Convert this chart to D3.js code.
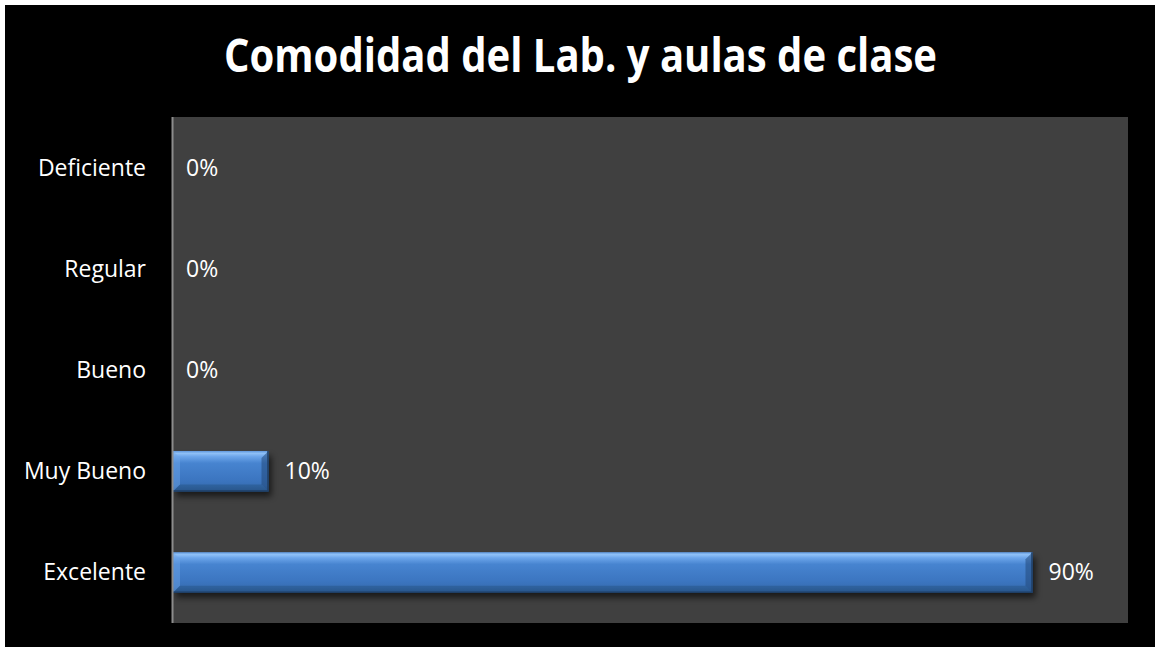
<!DOCTYPE html>
<html>
<head>
<meta charset="utf-8">
<script src="https://cdn.jsdelivr.net/npm/d3@7"></script>
<style>
html,body{margin:0;padding:0;background:#fff;}
svg{display:block;}
</style>
</head>
<body>
<svg id="chart" width="1155" height="647"></svg>
<script>
const title = "Comodidad del Lab. y aulas de clase";
const categories = ["Deficiente", "Regular", "Bueno", "Muy Bueno", "Excelente"];
const values = [0, 0, 0, 0.10, 0.90];
const valueLabels = ["0%", "0%", "0%", "10%", "90%"];

const W = 1155, H = 647;
const plot = {left: 172, top: 117, right: 1128, bottom: 623};
const font = "'Open Sans', 'Noto Sans', sans-serif";

const svg = d3.select("#chart");
svg.append("rect").attr("x",0).attr("y",0).attr("width",W).attr("height",H).attr("fill","#fff");
svg.append("rect").attr("x",5).attr("y",5).attr("width",W-5).attr("height",H-5).attr("fill","#000");

const defs = svg.append("defs");
const g1 = defs.append("linearGradient").attr("id","barGrad").attr("x1",0).attr("y1",0).attr("x2",0).attr("y2",1);
[[0,"#5f97dc"],[0.06,"#8fc0f6"],[0.14,"#6ca5ea"],[0.3,"#4784d0"],[0.7,"#3c76c1"],[0.86,"#386fb5"],[1,"#2c5a92"]]
  .forEach(([o,c]) => g1.append("stop").attr("offset",o).attr("stop-color",c));
const flt = defs.append("filter").attr("id","shadow").attr("x","-10%").attr("y","-50%").attr("width","130%").attr("height","250%");
flt.append("feGaussianBlur").attr("stdDeviation",3);

svg.append("rect").attr("x",plot.left).attr("y",plot.top)
  .attr("width",plot.right-plot.left).attr("height",plot.bottom-plot.top).attr("fill","#404040");

const x = d3.scaleLinear().domain([0,1]).range([plot.left+1, plot.right]);
const y = d3.scaleBand().domain(categories).range([plot.top, plot.bottom]).paddingInner(0.6).paddingOuter(0.3);

const data = categories.map((c,i) => ({c, v: values[i], label: valueLabels[i]}));

// title
svg.append("text").attr("x",580.5).attr("y",72).attr("text-anchor","middle")
  .attr("font-family",font).attr("font-weight","bold").attr("font-size",47)
  .attr("textLength",713).attr("lengthAdjust","spacingAndGlyphs")
  .attr("fill","#fff").text(title);

// bars
const bars = svg.append("g").selectAll("g").data(data.filter(d => d.v > 0)).join("g");
bars.append("rect")
  .attr("x", d => x(0)+3).attr("y", d => y(d.c)+5)
  .attr("width", d => x(d.v)-x(0)).attr("height", y.bandwidth())
  .attr("fill","#000").attr("opacity",0.6).attr("filter","url(#shadow)");
bars.append("rect")
  .attr("x", d => x(0)).attr("y", d => y(d.c))
  .attr("width", d => x(d.v)-x(0)).attr("height", y.bandwidth())
  .attr("fill","url(#barGrad)");
const bv = 7;
bars.append("path").attr("d", d => {
  const x0=x(0), y0=y(d.c), y1=y0+y.bandwidth();
  return `M${x0},${y0}L${x0+bv},${y0+bv}L${x0+bv},${y1-bv}L${x0},${y1}Z`;
}).attr("fill","#6fa6e8").attr("opacity",0.45);
bars.append("path").attr("d", d => {
  const x1=x(d.v), y0=y(d.c), y1=y0+y.bandwidth();
  return `M${x1},${y0}L${x1-bv},${y0+bv}L${x1-bv},${y1-bv}L${x1},${y1}Z`;
}).attr("fill","#23497a").attr("opacity",0.55);
bars.append("path").attr("d", d => {
  const x0=x(0), x1=x(d.v), y1=y(d.c)+y.bandwidth();
  return `M${x0},${y1}L${x0+bv},${y1-bv}L${x1-bv},${y1-bv}L${x1},${y1}Z`;
}).attr("fill","#24507f").attr("opacity",0.45);
bars.append("path").attr("d", d => {
  const x0=x(0), x1=x(d.v), y0=y(d.c), y1=y0+y.bandwidth();
  return `M${x1-0.5},${y0}L${x1-0.5},${y1-0.5}L${x0},${y1-0.5}`;
}).attr("fill","none").attr("stroke","#1f3f66").attr("stroke-width",1.5);

// axis line
svg.append("line").attr("x1",plot.left+0.5).attr("x2",plot.left+0.5)
  .attr("y1",plot.top).attr("y2",plot.bottom).attr("stroke","#8c8c8c").attr("stroke-width",2);

// category labels
svg.append("g").selectAll("text").data(data).join("text")
  .attr("x", 146).attr("y", d => y(d.c) + y.bandwidth()/2)
  .attr("dy","0.35em").attr("text-anchor","end")
  .attr("font-family",font).attr("font-size",23).attr("fill","#fff")
  .text(d => d.c);

// value labels
svg.append("g").selectAll("text").data(data).join("text")
  .attr("x", d => x(d.v) + (d.v > 0 ? 16 : 13)).attr("y", d => y(d.c) + y.bandwidth()/2)
  .attr("dy","0.35em").attr("text-anchor","start")
  .attr("font-family",font).attr("font-size",23).attr("fill","#fff")
  .text(d => d.label);
</script>
</body>
</html>
